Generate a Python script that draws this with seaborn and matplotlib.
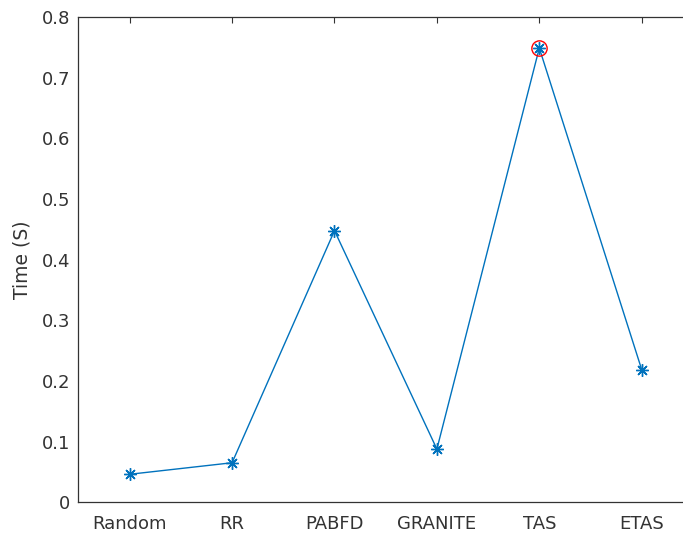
import matplotlib
matplotlib.use("Agg")
import matplotlib.pyplot as plt
import seaborn as sns
import pandas as pd

# Execution time of each scheduling algorithm
algorithms = ["Random", "RR", "PABFD", "GRANITE", "TAS", "ETAS"]
times = [0.0465, 0.0655, 0.448, 0.088, 0.749, 0.219]
highlight = "TAS"

sns.set_theme(style="white")
plt.rcParams["font.family"] = ["DejaVu Sans"]

df = pd.DataFrame({"pos": range(1, len(algorithms) + 1),
                   "algorithm": algorithms, "time": times})

fig = plt.figure(figsize=(6.83, 5.34), dpi=100)
ax = fig.add_axes([0.1149, 0.059, 0.8996, 0.909])

line_color = "#0072BD"
sns.lineplot(data=df, x="pos", y="time", ax=ax, color=line_color,
             linewidth=1.0, marker=(8, 2, 0), markersize=9,
             markeredgecolor=line_color, markeredgewidth=1.0)

hl = df[df["algorithm"] == highlight]
ax.plot(hl["pos"], hl["time"], linestyle="none", marker="o", markersize=11,
        markerfacecolor="none", markeredgecolor="#FF0000", markeredgewidth=1.0)

ax.set_xlim(0.5, 6.5)
ax.set_ylim(0, 0.8)
ax.set_xticks(df["pos"])
ax.set_xticklabels(algorithms)
ax.set_yticks([0, 0.1, 0.2, 0.3, 0.4, 0.5, 0.6, 0.7, 0.8])
ax.set_yticklabels(["0", "0.1", "0.2", "0.3", "0.4", "0.5", "0.6", "0.7", "0.8"])
ax.set_xlabel("")
ax.set_ylabel("Time (S)", fontsize=13.5, color="#333333", labelpad=7)

axis_color = "#333333"
for side in ["left", "bottom", "top"]:
    ax.spines[side].set_color(axis_color)
    ax.spines[side].set_linewidth(0.9)
ax.spines["right"].set_visible(False)
ax.tick_params(axis="both", direction="in", length=4, width=0.8,
               colors=axis_color, labelsize=13, top=True, right=False,
               pad=6)
ax.tick_params(axis="x", pad=9)

fig.savefig("out.png", dpi=100)
